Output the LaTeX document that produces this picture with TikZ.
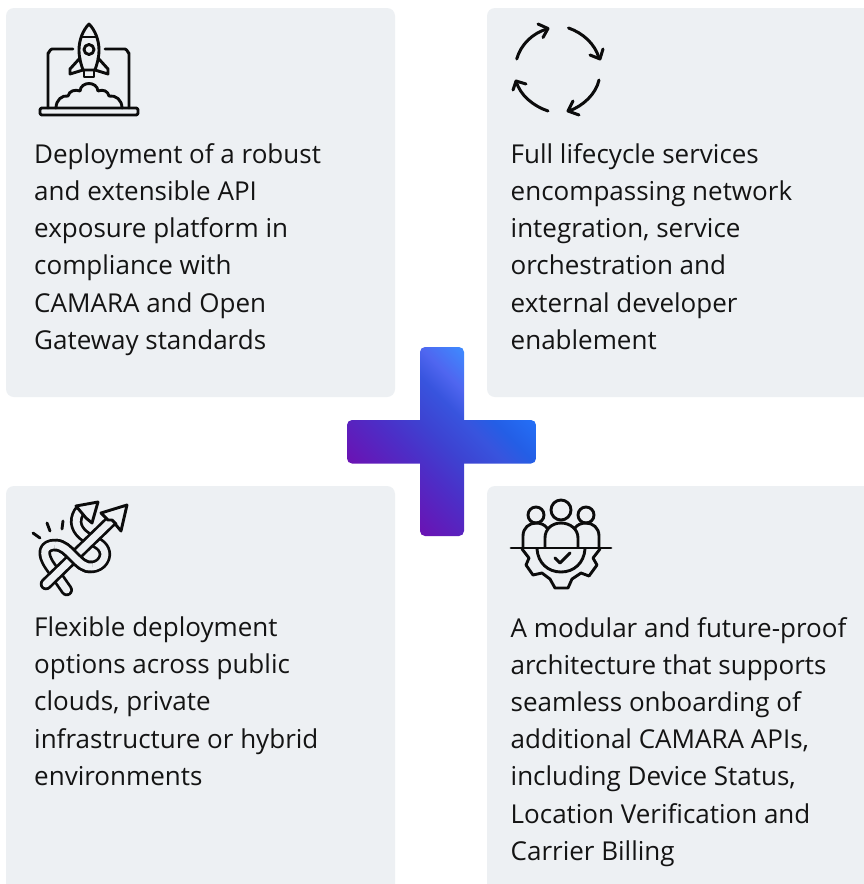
\documentclass[tikz,border=0pt]{standalone}
\usepackage{fontspec}
\setmainfont{Open Sans}
\definecolor{cardbg}{HTML}{EDF0F3}
\definecolor{ink}{HTML}{0C0C0C}
\definecolor{txt}{HTML}{141414}
\pgfdeclarehorizontalshading{plusv}{100bp}{rgb(0bp)=(0.42,0.07,0.70);rgb(28.3bp)=(0.42,0.07,0.70);rgb(41.8bp)=(0.30,0.18,0.78);rgb(50bp)=(0.24,0.26,0.82);rgb(58.2bp)=(0.22,0.33,0.87);rgb(63.7bp)=(0.31,0.40,0.94);rgb(72bp)=(0.24,0.55,1.0);rgb(100bp)=(0.24,0.55,1.0)}
\pgfdeclarehorizontalshading{plush}{100bp}{rgb(0bp)=(0.42,0.07,0.70);rgb(28.3bp)=(0.42,0.07,0.70);rgb(41.8bp)=(0.30,0.18,0.78);rgb(50bp)=(0.24,0.26,0.82);rgb(58.2bp)=(0.22,0.33,0.87);rgb(63.7bp)=(0.14,0.37,0.90);rgb(72bp)=(0.14,0.44,0.97);rgb(100bp)=(0.14,0.44,0.97)}
\tikzset{
  x=1pt,y=-1pt,
  card/.style={fill=cardbg,rounded corners=8pt},
  label/.style={anchor=base west,inner sep=0pt,align=left,text=txt,font=\fontsize{26}{37.2}\selectfont},
  icon/.style={draw=ink,line width=3pt,line cap=round,line join=round},
  thinicon/.style={draw=ink,line width=2.9pt,line cap=round,line join=round},
  bandout/.style={ink,line width=12.5pt,line join=round},
  bandin/.style={cardbg,line width=7pt,line join=round},
}
\begin{document}
\begin{tikzpicture}
\useasboundingbox (0,0) rectangle (864,884);
\clip (0,0) rectangle (864,884);
\fill[white] (0,0) rectangle (864,884);
\path[card] (6,8) rectangle (395,397);
\path[card] (487,8) rectangle (890,397);
\path[card] (6,486) rectangle (395,910);
\path[card] (487,486) rectangle (890,910);
% text
\node[label] (t1) at (34,349.3) {Deployment of a robust\\and extensible API\\exposure platform in\\compliance with\\CAMARA and Open\\Gateway standards};
\node[label] (t2) at (510.5,349.3) {Full lifecycle services\\encompassing network\\integration, service\\orchestration and\\external developer\\enablement};
\node[label] (t3) at (34,785.3) {Flexible deployment\\options across public\\clouds, private\\infrastructure or hybrid\\environments};
\node[label] (t4) at (510.5,860.3) {A modular and future-proof\\architecture that supports\\seamless onboarding of\\additional CAMARA APIs,\\including Device Status,\\Location Verification and\\Carrier Billing};
% plus
\begin{scope}
\clip[rounded corners=5pt] (347,420) rectangle (536,463.5);
\shade[shading=plush,shading angle=45] (347,347) rectangle (536,536);
\end{scope}
\begin{scope}
\clip[rounded corners=5pt] (420,347) rectangle (464,536);
\shade[shading=plusv,shading angle=45] (347,347) rectangle (536,536);
\end{scope}
% rocket icon
\draw[thinicon] (48,108) -- (48,53) to[out=-90,in=180] (52,49) -- (73,49);
\draw[thinicon] (105,49) -- (125,49) to[out=0,in=-90] (129,53) -- (129,108);
\draw[thinicon,rounded corners=2pt] (40,108) rectangle (138,115);
\draw[thinicon] (89,24) .. controls (83,30) and (79,40) .. (79,50) .. controls (79,58) and (81,64) .. (83,70) -- (95,70) .. controls (97,64) and (99,58) .. (99,50) .. controls (99,40) and (95,30) .. (89,24) -- cycle;
\draw[thinicon] (82,37) -- (96,37);
\draw[thinicon] (89,49.5) circle (5);
\draw[thinicon] (80,58) -- (70,69) -- (70,74) -- (83,70);
\draw[thinicon] (98,58) -- (108,69) -- (108,74) -- (95,70);
\draw[thinicon] (84,70) -- (84,77) -- (94,77) -- (94,70);
\draw[thinicon] (56,108) .. controls (56,100) and (62,95) .. (68,96) .. controls (69,91) and (75,89) .. (80,91) .. controls (81,81) and (97,81) .. (98,91) .. controls (103,89) and (108,91) .. (109,96) .. controls (116,95) and (122,100) .. (122,108);
% cycle icon
\draw[icon] (516.7,59) .. controls (521,44) and (533,33) .. (547,29);
\draw[icon] (538,24) -- (548,28.5) -- (543,37.5);
\draw[icon] (568.5,28) .. controls (583,33) and (595,44) .. (599,58);
\draw[icon] (590,55) -- (600,59) -- (603,49);
\draw[icon] (599,80) .. controls (596,94) and (583,106) .. (569,111);
\draw[icon] (579,115) -- (568,111) -- (573,101);
\draw[icon] (548,111) .. controls (533,106) and (520,95) .. (516,81);
\draw[icon] (513,90) -- (516,81) -- (526,84);
% knot icon
\def\knotpath{(66.7,590) -- (50,566) .. controls (41,553) and (44,545) .. (55,545) .. controls (63,545) and (68,551) .. (73,556) .. controls (80,563) and (85,568) .. (92,567) .. controls (102,566) and (107,557) .. (104,550) .. controls (101,543) and (92,541) .. (86,537) .. controls (77,531) and (73,522) .. (79,512)}
\def\knotover{(55,545) .. controls (63,545) and (68,551) .. (73,556) .. controls (80,563) and (85,568) .. (92,567)}
\draw[bandout,line cap=round] \knotpath;
\draw[bandin,line cap=round] \knotpath;
\draw[thinicon,fill=cardbg] (76,506) -- (98,502) -- (92,523) -- (86,518) -- (81,512) -- cycle;
\draw[bandout,line cap=round] (46,584) -- (113,519);
\draw[bandin,line cap=round] (46,584) -- (113,519);
\draw[bandout] \knotover;
\draw[bandin] \knotover;
\draw[thinicon,fill=cardbg] (127,505) -- (101,513) -- (108,520) -- (112,520) -- (116,524) -- (116,525) -- (121,531) -- cycle;
\draw[thinicon] (33,533) -- (40,538);
\draw[thinicon] (47,523) -- (50,531);
\draw[thinicon] (63,521) -- (62,529);
% team icon
\draw[thinicon] (561,510) circle (10);
\draw[thinicon] (536,515) circle (8);
\draw[thinicon] (586,515) circle (8);
\draw[thinicon] (545,547) -- (545,538) .. controls (545,529) and (552,523) .. (561,523) .. controls (570,523) and (578,529) .. (578,538) -- (578,547);
\draw[thinicon] (523,547) -- (523,536) .. controls (523,528) and (529,523) .. (536,523) .. controls (541,523) and (545,525) .. (547,528);
\draw[thinicon] (599,547) -- (599,536) .. controls (599,528) and (593,523) .. (586,523) .. controls (581,523) and (577,525) .. (575,528);
\draw[thinicon] (511,548) -- (611,548);
\draw[thinicon] (537,549) .. controls (538,563) and (548,572) .. (561,572) .. controls (574,572) and (584,563) .. (585,549);
\draw[thinicon] (555,558) -- (560,563) -- (570,553);
\draw[thinicon] (522,549) -- (529,558) -- (526,565) -- (533,575) -- (542,573) -- (550,579) -- (555,588) -- (568,588) -- (572,579) -- (581,573) -- (589,576) -- (597,565) -- (593,558) -- (600,549);
\end{tikzpicture}
\end{document}
